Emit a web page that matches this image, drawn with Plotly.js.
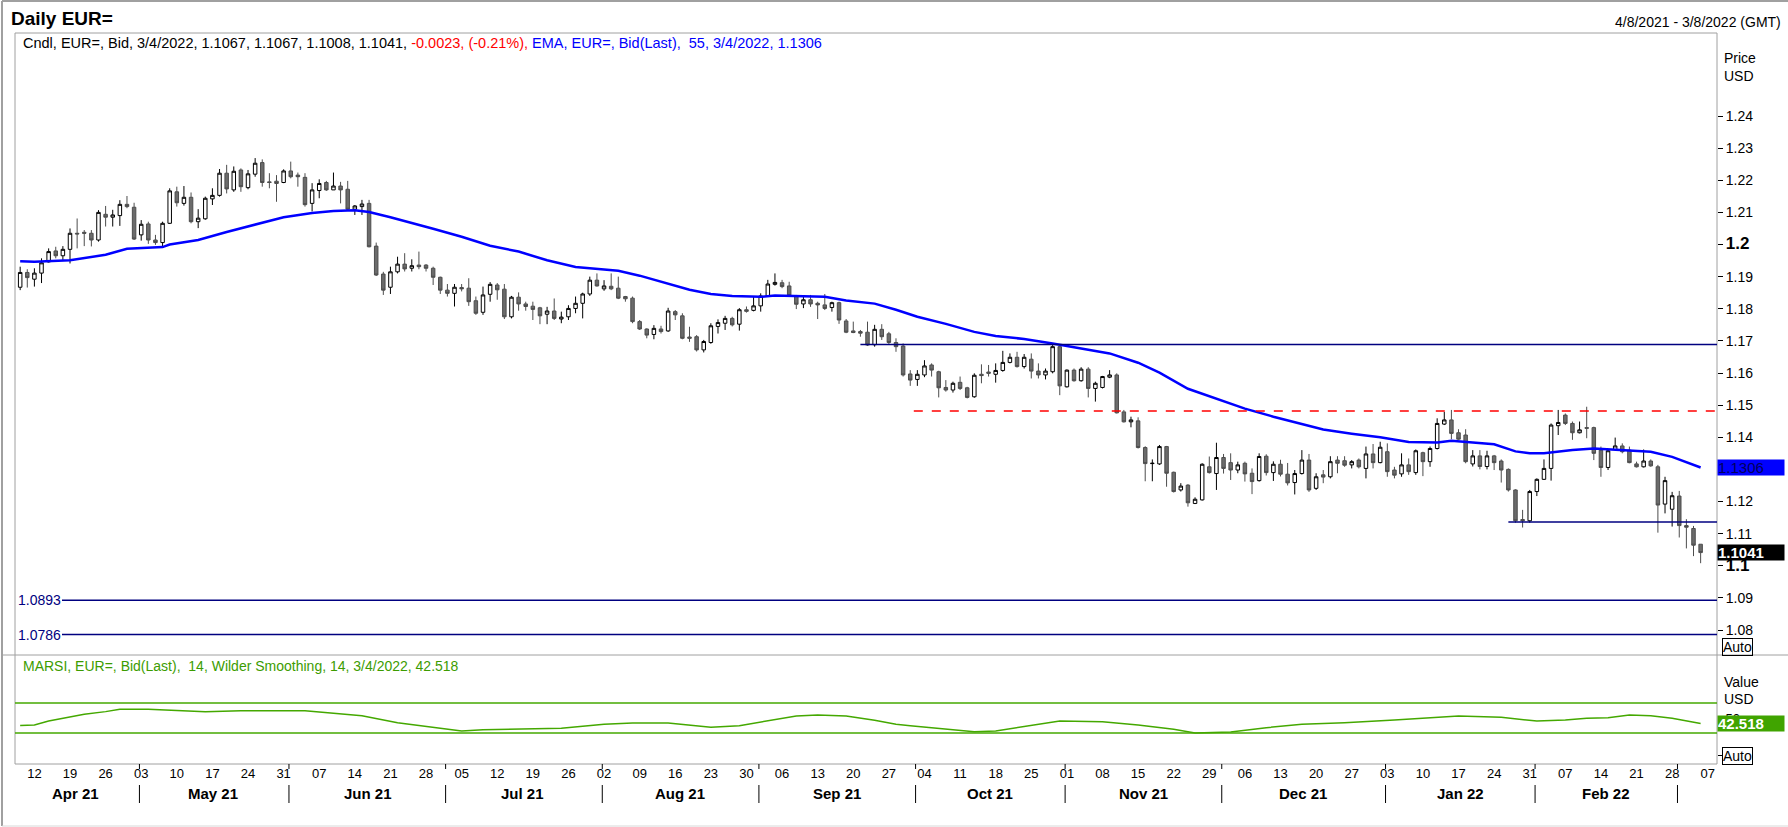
<!DOCTYPE html>
<html>
<head>
<meta charset="utf-8">
<script src="https://cdn.plot.ly/plotly-3.0.1.min.js"></script>
<style>html,body{margin:0;padding:0;background:#fff}</style>
</head>
<body>
<div id="chart" style="width:1788px;height:827px"></div>
<script>
// daily EUR= candles, 8 Apr 2021 .. 4 Mar 2022 (weekdays only)
var openP = [1.1867,1.1913,1.1892,1.1911,1.1946,1.1980,1.1965,
  1.1985,1.2035,1.2038,1.2035,1.2014,1.2094,1.2085,1.2090,1.2125,1.2116,
  1.2030,1.2064,1.2014,1.2006,1.2066,1.2164,1.2128,1.2147,1.2071,1.2080,
  1.2142,1.2153,1.2222,1.2170,1.2232,1.2177,1.2219,1.2255,1.2195,1.2197,
  1.2193,1.2229,1.2216,1.2209,1.2128,1.2168,1.2193,1.2170,1.2182,1.2172,
  1.2110,1.2118,1.2128,1.1995,1.1908,1.1867,1.1915,1.1939,1.1926,1.1936,
  1.1936,1.1926,1.1898,1.1858,1.1848,1.1866,1.1864,1.1825,1.1789,1.1845,
  1.1874,1.1861,1.1775,1.1836,1.1815,1.1808,1.1803,1.1783,1.1793,1.1768,
  1.1775,1.1801,1.1817,1.1846,1.1889,1.1862,1.1870,1.1864,1.1838,1.1833,
  1.1760,1.1737,1.1720,1.1737,1.1731,1.1791,1.1778,1.1712,1.1713,1.1672,
  1.1695,1.1745,1.1755,1.1770,1.1752,1.1797,1.1795,1.1809,1.1840,1.1876,
  1.1881,1.1871,1.1841,1.1815,1.1828,1.1817,1.1812,1.1804,1.1819,1.1762,
  1.1731,1.1729,1.1727,1.1688,1.1736,1.1722,1.1695,1.1684,1.1597,1.1580,
  1.1594,1.1625,1.1604,1.1555,1.1547,1.1571,1.1554,1.1526,1.1596,1.1603,
  1.1596,1.1608,1.1633,1.1649,1.1620,1.1643,1.1606,1.1594,1.1604,1.1682,
  1.1557,1.1609,1.1576,1.1612,1.1552,1.1555,1.1587,1.1594,1.1479,1.1448,
  1.1451,1.1368,1.1318,1.1317,1.1371,1.1291,1.1236,1.1251,1.1194,1.1205,
  1.1308,1.1287,1.1337,1.1321,1.1298,1.1319,1.1288,1.1265,1.1341,1.1290,
  1.1316,1.1285,1.1259,1.1287,1.1329,1.1241,1.1283,1.1277,1.1329,1.1327,
  1.1314,1.1329,1.1303,1.1348,1.1321,1.1355,1.1298,1.1286,1.1314,1.1290,
  1.1352,1.1324,1.1365,1.1441,1.1454,1.1414,1.1407,1.1317,1.1342,1.1309,
  1.1342,1.1326,1.1300,1.1236,1.1144,1.1140,1.1231,1.1269,1.1303,1.1436,
  1.1469,1.1443,1.1414,1.1430,1.1430,1.1360,1.1306,1.1362,1.1373,1.1360,
  1.1317,1.1308,1.1326,1.1308,1.1192,1.1176,1.1217,1.1125,1.1116,1.1067];
var highP = [1.1931,1.1923,1.1926,1.1957,1.1988,1.1993,1.1995,
  1.2050,1.2081,1.2045,1.2045,1.2107,1.2120,1.2108,1.2138,1.2151,1.2130,
  1.2076,1.2071,1.2030,1.2071,1.2175,1.2180,1.2182,1.2162,1.2110,1.2149,
  1.2175,1.2235,1.2248,1.2243,1.2237,1.2232,1.2269,1.2265,1.2222,1.2216,
  1.2234,1.2258,1.2224,1.2222,1.2191,1.2203,1.2198,1.2224,1.2195,1.2198,
  1.2123,1.2139,1.2139,1.2006,1.1915,1.1931,1.1962,1.1973,1.1954,1.1978,
  1.1939,1.1931,1.1900,1.1877,1.1877,1.1877,1.1895,1.1838,1.1869,1.1883,
  1.1880,1.1877,1.1840,1.1851,1.1822,1.1822,1.1806,1.1806,1.1832,1.1791,
  1.1811,1.1838,1.1850,1.1900,1.1910,1.1889,1.1910,1.1900,1.1840,1.1838,
  1.1765,1.1739,1.1749,1.1747,1.1803,1.1796,1.1786,1.1744,1.1718,1.1703,
  1.1755,1.1767,1.1778,1.1775,1.1802,1.1807,1.1837,1.1848,1.1890,1.1910,
  1.1890,1.1884,1.1843,1.1838,1.1843,1.1822,1.1846,1.1822,1.1822,1.1768,
  1.1760,1.1734,1.1760,1.1750,1.1752,1.1728,1.1708,1.1692,1.1609,1.1609,
  1.1640,1.1630,1.1607,1.1578,1.1573,1.1589,1.1557,1.1599,1.1627,1.1625,
  1.1630,1.1669,1.1661,1.1666,1.1659,1.1661,1.1630,1.1614,1.1687,1.1687,
  1.1611,1.1614,1.1618,1.1618,1.1573,1.1591,1.1609,1.1599,1.1485,1.1464,
  1.1462,1.1372,1.1331,1.1376,1.1373,1.1293,1.1257,1.1254,1.1213,1.1319,
  1.1340,1.1383,1.1348,1.1350,1.1324,1.1324,1.1303,1.1350,1.1347,1.1325,
  1.1330,1.1320,1.1298,1.1360,1.1348,1.1288,1.1298,1.1341,1.1341,1.1341,
  1.1329,1.1334,1.1371,1.1379,1.1386,1.1381,1.1308,1.1350,1.1334,1.1362,
  1.1355,1.1371,1.1459,1.1479,1.1485,1.1425,1.1425,1.1360,1.1360,1.1358,
  1.1345,1.1331,1.1303,1.1238,1.1174,1.1236,1.1272,1.1331,1.1443,1.1485,
  1.1474,1.1449,1.1449,1.1495,1.1433,1.1371,1.1362,1.1399,1.1381,1.1371,
  1.1324,1.1362,1.1331,1.1314,1.1277,1.1230,1.1233,1.1145,1.1124,1.1067];
var lowP = [1.1858,1.1866,1.1869,1.1880,1.1944,1.1957,1.1952,
  1.1941,1.1988,1.1995,1.1994,1.2009,1.2056,1.2056,1.2058,1.2113,1.2014,
  1.2012,1.2002,1.1999,1.1993,1.2064,1.2118,1.2121,1.2066,1.2051,1.2077,
  1.2123,1.2149,1.2159,1.2164,1.2164,1.2172,1.2211,1.2180,1.2175,1.2133,
  1.2191,1.2206,1.2180,1.2118,1.2103,1.2144,1.2167,1.2170,1.2128,1.2106,
  1.2092,1.2092,1.1991,1.1902,1.1843,1.1846,1.1910,1.1916,1.1916,1.1923,
  1.1916,1.1874,1.1846,1.1838,1.1807,1.1854,1.1809,1.1781,1.1781,1.1822,
  1.1828,1.1768,1.1770,1.1794,1.1794,1.1765,1.1752,1.1752,1.1765,1.1755,
  1.1765,1.1786,1.1770,1.1840,1.1869,1.1856,1.1858,1.1830,1.1822,1.1755,
  1.1734,1.1708,1.1705,1.1723,1.1728,1.1765,1.1705,1.1697,1.1667,1.1664,
  1.1691,1.1723,1.1734,1.1745,1.1732,1.1788,1.1792,1.1791,1.1838,1.1872,
  1.1864,1.1838,1.1799,1.1802,1.1806,1.1768,1.1796,1.1791,1.1753,1.1724,
  1.1724,1.1713,1.1684,1.1682,1.1703,1.1688,1.1666,1.1589,1.1560,1.1560,
  1.1587,1.1589,1.1524,1.1542,1.1539,1.1547,1.1521,1.1523,1.1568,1.1589,
  1.1570,1.1604,1.1630,1.1617,1.1614,1.1583,1.1583,1.1580,1.1599,1.1531,
  1.1555,1.1573,1.1573,1.1524,1.1511,1.1552,1.1584,1.1474,1.1446,1.1431,
  1.1365,1.1263,1.1263,1.1314,1.1246,1.1228,1.1231,1.1184,1.1192,1.1203,
  1.1287,1.1236,1.1287,1.1267,1.1288,1.1262,1.1223,1.1262,1.1281,1.1264,
  1.1278,1.1250,1.1222,1.1284,1.1230,1.1236,1.1257,1.1272,1.1288,1.1308,
  1.1303,1.1303,1.1272,1.1303,1.1319,1.1277,1.1272,1.1277,1.1283,1.1283,
  1.1279,1.1308,1.1362,1.1438,1.1394,1.1392,1.1319,1.1309,1.1300,1.1300,
  1.1298,1.1259,1.1231,1.1134,1.1119,1.1134,1.1217,1.1267,1.1265,1.1407,
  1.1438,1.1392,1.1412,1.1397,1.1329,1.1277,1.1298,1.1360,1.1350,1.1319,
  1.1306,1.1306,1.1308,1.1103,1.1163,1.1122,1.1088,1.1054,1.1030,1.1008];
var closeP = [1.1913,1.1897,1.1911,1.1943,1.1978,1.1965,1.1985,
  1.2035,1.2033,1.2035,1.2014,1.2100,1.2085,1.2092,1.2125,1.2118,1.2017,
  1.2063,1.2014,1.2006,1.2066,1.2167,1.2130,1.2147,1.2071,1.2082,1.2144,
  1.2153,1.2222,1.2173,1.2228,1.2180,1.2220,1.2253,1.2193,1.2193,1.2190,
  1.2229,1.2211,1.2211,1.2124,1.2170,1.2190,1.2170,1.2182,1.2170,1.2110,
  1.2120,1.2126,1.1993,1.1905,1.1858,1.1915,1.1939,1.1924,1.1934,1.1931,
  1.1926,1.1898,1.1858,1.1848,1.1867,1.1862,1.1822,1.1786,1.1843,1.1876,
  1.1859,1.1775,1.1836,1.1815,1.1807,1.1798,1.1778,1.1793,1.1770,1.1774,
  1.1801,1.1817,1.1846,1.1889,1.1871,1.1871,1.1862,1.1833,1.1831,1.1760,
  1.1737,1.1718,1.1739,1.1729,1.1793,1.1781,1.1708,1.1708,1.1672,1.1698,
  1.1747,1.1757,1.1770,1.1750,1.1797,1.1792,1.1809,1.1840,1.1877,1.1882,
  1.1869,1.1841,1.1814,1.1828,1.1815,1.1812,1.1801,1.1819,1.1765,1.1727,
  1.1726,1.1724,1.1687,1.1736,1.1713,1.1695,1.1682,1.1594,1.1578,1.1596,
  1.1622,1.1609,1.1554,1.1547,1.1568,1.1552,1.1524,1.1593,1.1592,1.1599,
  1.1608,1.1633,1.1649,1.1620,1.1649,1.1606,1.1594,1.1606,1.1682,1.1560,
  1.1609,1.1576,1.1612,1.1552,1.1568,1.1589,1.1594,1.1476,1.1448,1.1454,
  1.1368,1.1318,1.1319,1.1371,1.1288,1.1231,1.1248,1.1196,1.1207,1.1316,
  1.1290,1.1337,1.1303,1.1298,1.1314,1.1286,1.1262,1.1340,1.1290,1.1316,
  1.1285,1.1258,1.1287,1.1329,1.1236,1.1277,1.1276,1.1324,1.1319,1.1313,
  1.1324,1.1308,1.1348,1.1321,1.1369,1.1293,1.1282,1.1314,1.1293,1.1358,
  1.1324,1.1365,1.1443,1.1454,1.1412,1.1394,1.1324,1.1342,1.1309,1.1342,
  1.1321,1.1298,1.1236,1.1140,1.1140,1.1231,1.1269,1.1303,1.1438,1.1446,
  1.1443,1.1414,1.1423,1.1428,1.1350,1.1306,1.1358,1.1373,1.1355,1.1321,
  1.1308,1.1326,1.1311,1.1189,1.1265,1.1218,1.1125,1.1120,1.1064,1.1041];

// EMA 55 (trading-day index, 0 = Mon 12 Apr 2021)
var emaIdx = [-2,0,5,10,13,18,19,23,27,31,35,39,42,45,47,50,53,56,60,64,68,72,76,81,82,85,89,92,95,98,
  102,104,108,111,114,118,121,124,128,132,135,139,143,147,151,155,158,162,166,170,174,178,181,185,189,
  193,197,199,201,205,208,210,212,216,219,224,227,230,234];
var emaVal = [1.1948,1.1946,1.1951,1.1968,1.1987,1.1992,1.2000,1.2014,1.2039,1.2063,1.2085,1.2098,1.2104,1.2107,1.2101,
  1.2085,1.2068,1.2049,1.2024,1.1996,1.1978,1.1951,1.1930,1.1921,1.1918,1.1903,1.1879,1.1859,1.1846,1.1840,
  1.1837,1.1841,1.1839,1.1837,1.1826,1.1816,1.1797,1.1775,1.1753,1.1728,1.1715,1.1706,1.1692,1.1676,1.1661,
  1.1632,1.1601,1.1551,1.1521,1.1489,1.1464,1.1441,1.1424,1.1411,1.1400,1.1385,1.1384,1.1389,1.1386,1.1378,
  1.1356,1.1350,1.1350,1.1360,1.1365,1.1360,1.1355,1.1339,1.1306];

// MARSI 14, Wilder smoothing
var rsiIdx = [-2,0,2,5,7,10,12,16,19,24,29,38,42,46,51,55,60,63,70,74,80,84,89,95,99,103,107,110,114,118,
  121,123,128,132,135,138,144,150,155,160,163,168,173,178,184,191,197,200,206,211,215,218,221,224,227,230,234];
var rsiVal = [40.0,40.7,46.0,51.0,55.0,58.5,61.6,61.6,60.7,58.5,59.8,59.8,56.2,53.1,43.8,38.5,32.7,34.4,35.3,36.2,
  41.6,43.3,43.3,37.6,39.8,46.0,52.7,54.0,52.7,46.9,41.6,39.8,34.9,31.8,32.7,37.1,46.0,45.1,40.7,34.9,
  30.0,31.3,37.1,41.6,43.8,47.4,50.5,52.7,50.9,46.0,47.4,49.6,50.5,54.0,53.1,49.6,42.518];

// horizontal levels
var levelTop = 1.1689, levelDash = 1.1482, levelLow = 1.1136;
var levelsLeft = [1.0893, 1.0786];
var priceTicks = [1.08,1.09,1.1,1.11,1.12,1.13,1.14,1.15,1.16,1.17,1.18,1.19,1.2,1.21,1.22,1.23,1.24];
var boldTicks = [1.1, 1.2];
var hiddenTicks = [1.13];   // sits under the EMA value box

var monthNames = ['Apr 21','May 21','Jun 21','Jul 21','Aug 21','Sep 21','Oct 21','Nov 21','Dec 21','Jan 22','Feb 22'];
var monthPos = [5.8,25.15,46.8,68.55,90.7,112.7,134.25,155.8,178.2,200.3,220.7];
var monthStart = [15,36,58,80,102,124,145,167,190,211,231];

var FONT = '"Liberation Sans", Arial, sans-serif';
var NAVY = '#000080', BLUE = '#0000ff', GREEN = '#44a800', FRAME = '#a0a0a0';

function weekdays(from, to) {
  var out = [], d = new Date(from + 'T00:00:00Z'), end = new Date(to + 'T00:00:00Z');
  while (d <= end) {
    var w = d.getUTCDay();
    if (w !== 0 && w !== 6) out.push(d.toISOString().slice(0, 10));
    d.setUTCDate(d.getUTCDate() + 1);
  }
  return out;
}
var cal = weekdays('2021-04-07', '2022-03-11');   // cal[0] is index -3
function tday(i) {
  var k = Math.floor(i), mins = Math.round((i - k) * 1440);
  var hh = String(Math.floor(mins / 60)).padStart(2, '0'), mm = String(mins % 60).padStart(2, '0');
  return cal[k + 3] + ' ' + hh + ':' + mm;
}
var dates = cal.slice(1, 1 + closeP.length);

var mondayX = [], mondayTxt = [];
for (var m = 0; m <= 235; m += 5) { mondayX.push(tday(m)); mondayTxt.push(cal[m + 3].slice(8, 10)); }

// pixel -> paper helpers (plot area 15..1717 x 33..764)
var PL = 15, PW = 1702, PT = 33, PH = 731;
function pxX(v) { return (v - PL) / PW; }
function pxY(v) { return (PT + PH - v) / PH; }
var RSI_H = pxY(655);
var xEnd = tday(236.3);

var candles = {
  type: 'candlestick', x: dates, open: openP, high: highP, low: lowP, close: closeP,
  xaxis: 'x', yaxis: 'y', whiskerwidth: 0, hoverinfo: 'none',
  increasing: {line: {color: '#000000', width: 1}, fillcolor: '#ffffff'},
  decreasing: {line: {color: '#4d4d4d', width: 1}, fillcolor: '#6b6b6b'}
};
var ema = {
  type: 'scatter', mode: 'lines', x: emaIdx.map(tday), y: emaVal,
  xaxis: 'x', yaxis: 'y', line: {color: BLUE, width: 2.5}, hoverinfo: 'none'
};
var rsi = {
  type: 'scatter', mode: 'lines', x: rsiIdx.map(tday), y: rsiVal,
  xaxis: 'x', yaxis: 'y2', line: {color: GREEN, width: 1.5}, hoverinfo: 'none'
};

function line(x0, y0, x1, y1, color, width, xref, yref, dash) {
  return {type: 'line', xref: xref || 'paper', yref: yref || 'paper', x0: x0, y0: y0, x1: x1, y1: y1,
    line: {color: color, width: width, dash: dash || 'solid'}, layer: 'above'};
}

var shapes = [
  // frame
  line(pxX(2), pxY(1), pxX(1788), pxY(1), FRAME, 2),
  line(pxX(2), pxY(1), pxX(2), pxY(826), FRAME, 2),
  line(pxX(2), pxY(826), pxX(1788), pxY(826), '#d8d8d8', 1),
  line(0, 1, 1, 1, FRAME, 1),
  line(0, 0, 0, 1, FRAME, 1),
  line(1, 0, 1, 1, FRAME, 1),
  line(0, 0, 1, 0, FRAME, 1),
  line(pxX(2), RSI_H, pxX(1788), RSI_H, FRAME, 1),
  // levels
  line(tday(116), levelTop, xEnd, levelTop, NAVY, 1.5, 'x', 'y'),
  line(tday(123.5), levelDash, xEnd, levelDash, '#ff0000', 1.5, 'x', 'y', 'dash'),
  line(tday(207), levelLow, xEnd, levelLow, NAVY, 1.5, 'x', 'y'),
  line(pxX(62), levelsLeft[0], 1, levelsLeft[0], NAVY, 1.5, 'paper', 'y'),
  line(pxX(62), levelsLeft[1], 1, levelsLeft[1], NAVY, 1.5, 'paper', 'y'),
  // RSI bands
  line(0, 70, 1, 70, GREEN, 1.5, 'paper', 'y2'),
  line(0, 30, 1, 30, GREEN, 1.5, 'paper', 'y2')
];
monthStart.forEach(function (i) {
  shapes.push(line(tday(i - 0.25), pxY(764), tday(i - 0.25), pxY(769), '#000', 1, 'x', 'paper'));
  shapes.push(line(tday(i - 0.25), pxY(785), tday(i - 0.25), pxY(803), '#000', 1, 'x', 'paper'));
});

function note(text, x, y, opts) {
  var a = {text: text, x: x, y: y, xref: 'paper', yref: 'paper', showarrow: false,
    xanchor: 'left', yanchor: 'middle', font: {family: FONT, size: 14, color: '#000'}};
  for (var k in opts) a[k] = opts[k];
  return a;
}

var annotations = [
  note('<b>Daily EUR=</b>', pxX(9), pxY(18), {font: {family: FONT, size: 19, color: '#000'}}),
  note('4/8/2021 - 3/8/2022 (GMT)', pxX(1783), pxY(22), {xanchor: 'right'}),
  note('Cndl, EUR=, Bid, 3/4/2022, 1.1067, 1.1067, 1.1008, 1.1041, ' +
       '<span style="color:#ff0000">-0.0023, (-0.21%), </span>' +
       '<span style="color:#0000ff">EMA, EUR=, Bid(Last),  55, 3/4/2022, 1.1306</span>', pxX(21), pxY(43),
       {font: {family: FONT, size: 14.5, color: '#000'}}),
  note('Price', pxX(1722), pxY(58)),
  note('USD', pxX(1722), pxY(76)),
  note('Auto', pxX(1722), pxY(647), {bordercolor: '#000', borderwidth: 1, borderpad: 0}),
  note('Value', pxX(1722), pxY(682)),
  note('USD', pxX(1722), pxY(699)),
  note('Auto', pxX(1722), pxY(756), {bordercolor: '#000', borderwidth: 1, borderpad: 0}),
  note('MARSI, EUR=, Bid(Last),  14, Wilder Smoothing, 14, 3/4/2022, 42.518', pxX(21), pxY(666),
       {font: {family: FONT, size: 14, color: '#3c9c00'}}),
  note(levelsLeft[0].toFixed(4), pxX(16), levelsLeft[0], {yref: 'y', font: {family: FONT, size: 14, color: NAVY}}),
  note(levelsLeft[1].toFixed(4), pxX(16), levelsLeft[1], {yref: 'y', font: {family: FONT, size: 14, color: NAVY}}),
  note(emaVal[emaVal.length - 1].toFixed(4), 1, emaVal[emaVal.length - 1],
       {yref: 'y', bgcolor: BLUE, width: 66, height: 15, align: 'left', borderpad: 0,
        font: {family: FONT, size: 15, color: '#00005c'}}),
  note('<b>' + closeP[closeP.length - 1].toFixed(4) + '</b>', 1, closeP[closeP.length - 1],
       {yref: 'y', bgcolor: '#000', width: 66, height: 15, align: 'left', borderpad: 0,
        font: {family: FONT, size: 15, color: '#fff'}}),
  note('<b>' + rsiVal[rsiVal.length - 1].toFixed(3) + '</b>', 1, rsiVal[rsiVal.length - 1],
       {yref: 'y2', bgcolor: '#40a400', width: 66, height: 15, align: 'left', borderpad: 0,
        font: {family: FONT, size: 15, color: '#fff'}})
];
monthNames.forEach(function (t, k) {
  annotations.push({text: '<b>' + t + '</b>', x: tday(monthPos[k]), y: pxY(794), xref: 'x', yref: 'paper',
    showarrow: false, xanchor: 'center', yanchor: 'middle', font: {family: FONT, size: 15, color: '#000'}});
});

var priceText = priceTicks.map(function (v) {
  if (hiddenTicks.indexOf(v) >= 0) return '';
  return boldTicks.indexOf(v) >= 0 ? '<span style="font-size:17px"><b>' + v + '</b></span>' : v.toFixed(2);
});

var layout = {
  width: 1788, height: 827,
  margin: {l: PL, r: 1788 - PL - PW, t: PT, b: 827 - PT - PH},
  paper_bgcolor: '#fff', plot_bgcolor: '#fff', showlegend: false, hovermode: false,
  font: {family: FONT, size: 14, color: '#000'},
  xaxis: {
    type: 'date', anchor: 'y2', range: [tday(-2.725), xEnd],
    rangebreaks: [{bounds: ['sat', 'mon']}], rangeslider: {visible: false},
    tickmode: 'array', tickvals: mondayX, ticktext: mondayTxt, tickfont: {size: 13},
    ticks: '', showgrid: false, zeroline: false, showline: false, fixedrange: true
  },
  yaxis: {
    domain: [RSI_H, 1], range: [1.07222, 1.26584], side: 'right', anchor: 'x',
    tickmode: 'array', tickvals: priceTicks, ticktext: priceText, tickfont: {size: 14},
    ticks: 'outside', ticklen: 5, tickcolor: '#000', showgrid: false, zeroline: false, showline: false
  },
  yaxis2: {
    domain: [0, RSI_H], range: [-11.33, 134], side: 'right', anchor: 'x',
    tickmode: 'array', tickvals: [0, 50], ticktext: ['', '50'], tickfont: {size: 13},
    ticks: 'outside', ticklen: 5, tickcolor: '#000', showgrid: false, zeroline: false, showline: false
  },
  shapes: shapes,
  annotations: annotations
};

Plotly.newPlot('chart', [candles, ema, rsi], layout, {staticPlot: true, displayModeBar: false});
</script>
</body>
</html>
